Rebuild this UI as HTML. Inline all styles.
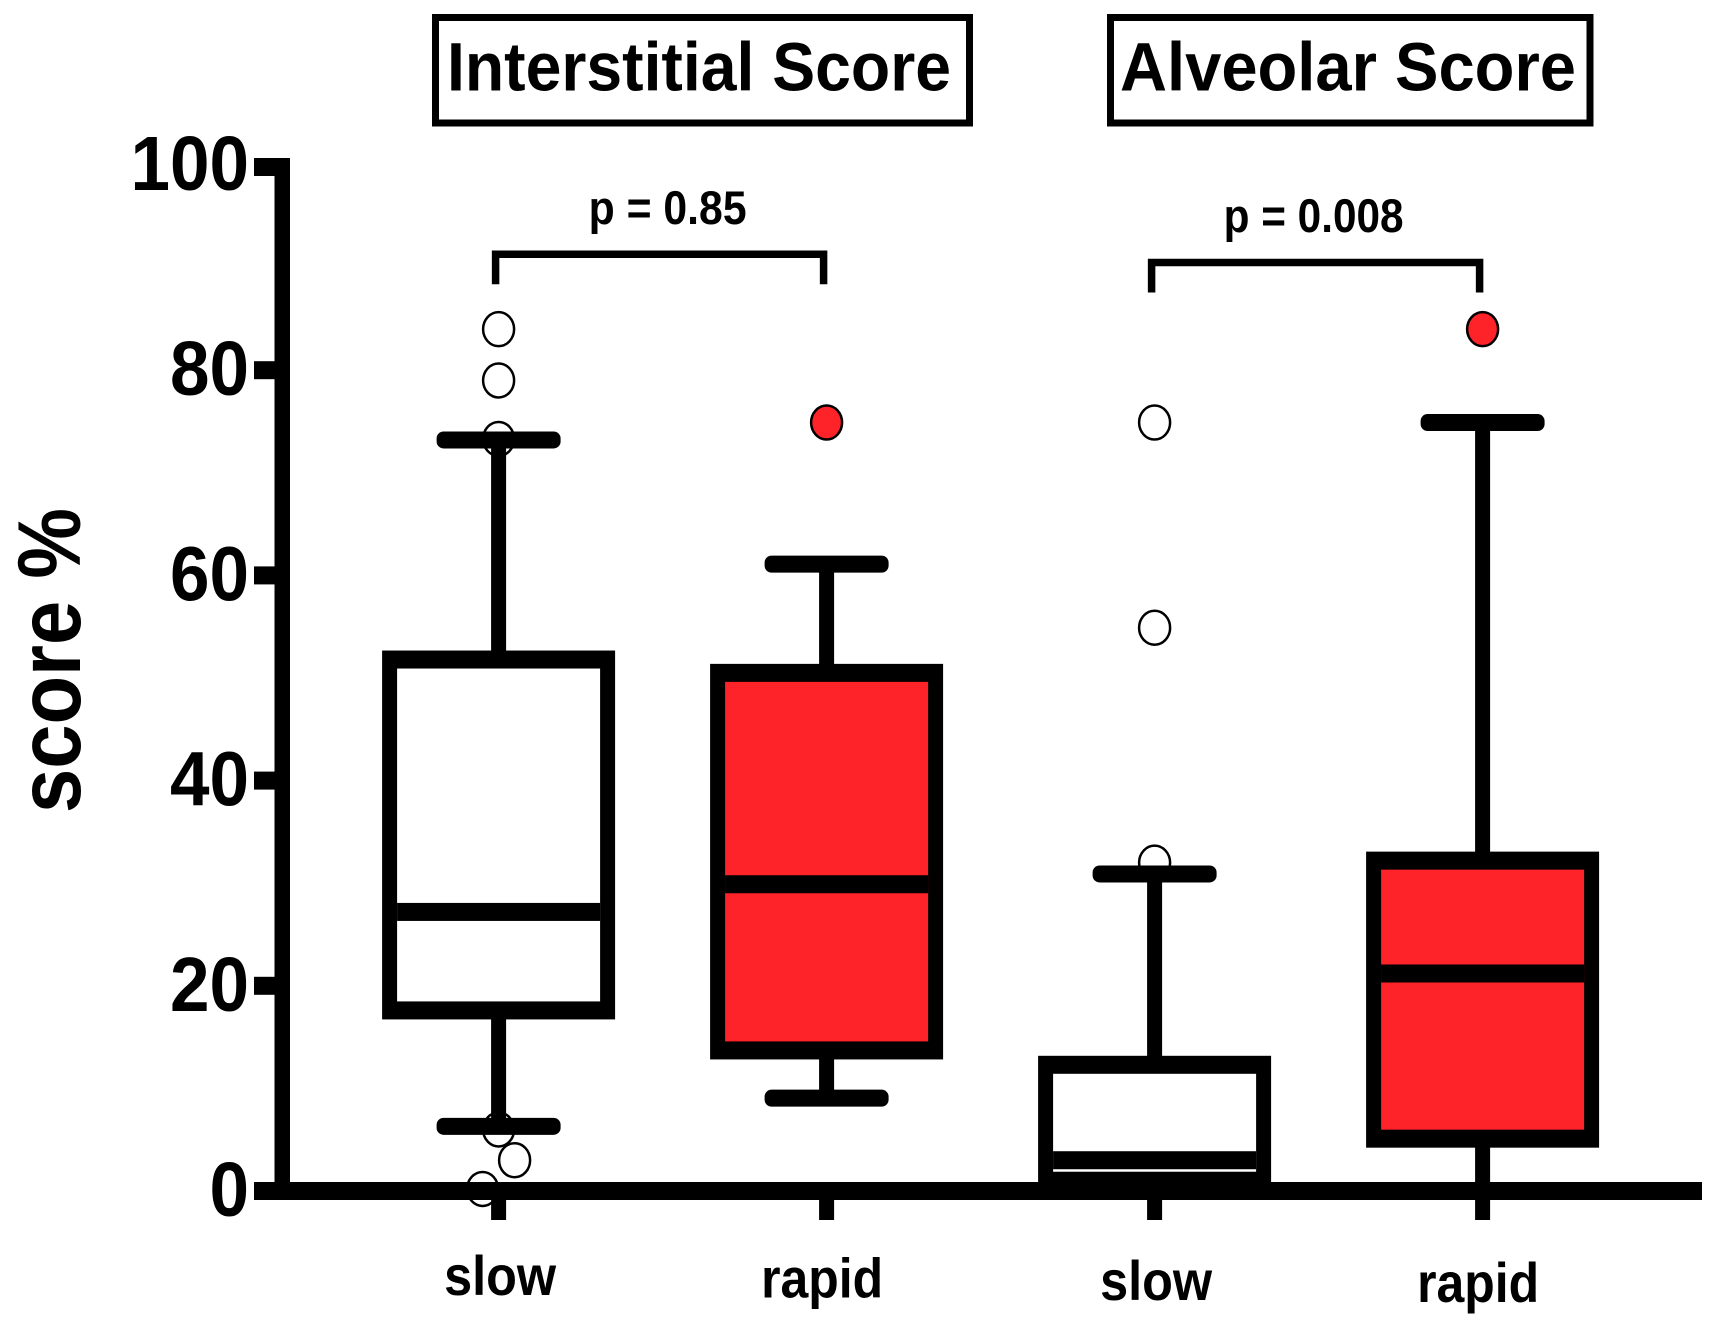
<!DOCTYPE html>
<html lang="en">
<head>
<meta charset="utf-8">
<title>Interstitial and Alveolar Score</title>
<style>
html,body{margin:0;padding:0;background:#fff;width:1722px;height:1332px;overflow:hidden}
svg{display:block}
text{font-family:"Liberation Sans",Arial,sans-serif;font-weight:700;fill:#000}
</style>
</head>
<body>
<svg id="chart" xmlns="http://www.w3.org/2000/svg" width="1722" height="1332" viewBox="0 0 1722 1332">
  <rect x="0" y="0" width="1722" height="1332" fill="#fff"/>
  <g>
    <rect x="435.5" y="17.5" width="534" height="105.5" fill="#fff" stroke="#000" stroke-width="7"/>
    <text x="447" y="90.5" font-size="69" textLength="504" lengthAdjust="spacingAndGlyphs">Interstitial Score</text>
  </g>
  <g>
    <rect x="1110.5" y="17.5" width="479.5" height="105.5" fill="#fff" stroke="#000" stroke-width="7"/>
    <text x="1120" y="90.5" font-size="69" textLength="456" lengthAdjust="spacingAndGlyphs">Alveolar Score</text>
  </g>
  <text transform="translate(80 813) rotate(-90)" font-size="89" textLength="305" lengthAdjust="spacingAndGlyphs">score %</text>
  <g id="marks"></g>
</svg>
<script>
var categories = ['slow', 'rapid', 'slow', 'rapid'];
var q1Values = [17.6, 13.7, 1.0, 5.1];
var medianValues = [27.2, 29.9, 3.0, 21.2];
var q3Values = [51.8, 50.5, 12.3, 32.2];
var whiskerLowValues = [6.3, 9.05, 0, 0];
var whiskerHighValues = [73.2, 61.1, 30.9, 74.9];
var outlierValues = [
  [84, 79, 73.3, 6, 3, 0.2],
  [74.9],
  [74.9, 54.9, 32],
  [84]
];
var boxFills = ['#ffffff', '#fe2229', '#ffffff', '#fe2229'];
var capFlags = [true, true, false, false];
var yTickValues = [0, 20, 40, 60, 80, 100];
var pLabels = ['p = 0.85', 'p = 0.008'];
var bracketPairs = [[0, 1], [2, 3]];
var bracketLevels = [91.3, 90.5];

var SVGNS = 'http://www.w3.org/2000/svg';
var root = document.getElementById('marks');

function yPos(v) { return 1191 - v * 10.26; }
function xPos(i) { return 498.6 + 328 * i; }

function make(tag, attrs) {
  var el = document.createElementNS(SVGNS, tag);
  for (var k in attrs) { el.setAttribute(k, attrs[k]); }
  root.appendChild(el);
  return el;
}

var el, i, j;

// outliers sit below the boxes, whiskers and axes
for (i = 0; i < categories.length; i++) {
  var side = 1;
  for (j = 0; j < outlierValues[i].length; j++) {
    var v = outlierValues[i][j];
    var prev = j > 0 ? outlierValues[i][j - 1] : null;
    var dodge = 0;
    if (prev !== null && Math.abs(prev - v) < 4) {
      dodge = 16 * side;
      side = -side;
    }
    el = make('ellipse', {
      cx: xPos(i) + dodge, cy: yPos(v), rx: 15.5, ry: 17,
      fill: boxFills[i], stroke: '#000', 'stroke-width': 2.5
    });
    
    
  }
}

// whiskers, caps and boxes
for (i = 0; i < categories.length; i++) {
  var cx = xPos(i);
  el = make('rect', {
    x: cx - 7.5, y: yPos(whiskerHighValues[i]),
    width: 15, height: yPos(whiskerLowValues[i]) - yPos(whiskerHighValues[i]), fill: '#000'
  });
  
  

  el = make('rect', {
    x: cx - 62, y: yPos(whiskerHighValues[i]) - 8.5,
    width: 124, height: 17, rx: 7, fill: '#000'
  });
  
  

  if (capFlags[i]) {
    el = make('rect', {
      x: cx - 62, y: yPos(whiskerLowValues[i]) - 8.5,
      width: 124, height: 17, rx: 7, fill: '#000'
    });
    
    
  }

  var boxTop = yPos(q3Values[i]);
  var boxBottom = yPos(q1Values[i]);
  el = make('rect', {
    x: cx - 116.5, y: boxTop - 9, width: 233, height: boxBottom - boxTop + 18, fill: '#000'
  });
  
  

  el = make('rect', {
    x: cx - 101.5, y: boxTop + 9, width: 203, height: boxBottom - boxTop - 18, fill: boxFills[i]
  });
  
  

  el = make('rect', {
    x: cx - 101.5, y: yPos(medianValues[i]) - 9, width: 203, height: 18, fill: '#000'
  });
  
  
}

// axes
el = make('rect', { x: 274.5, y: yPos(100) - 7, width: 15.5, height: yPos(0) - yPos(100) + 16, fill: '#000' });



el = make('rect', { x: 254, y: yPos(0) - 9, width: 1448, height: 18, fill: '#000' });



for (i = 0; i < yTickValues.length; i++) {
  el = make('rect', { x: 254, y: yPos(yTickValues[i]) - (yTickValues[i] === 100 ? 7 : 9), width: 21, height: 18, fill: '#000' });
  
  

  var label = String(yTickValues[i]);
  el = make('text', {
    x: 249, y: yPos(yTickValues[i]) + 25, 'font-size': 77, 'text-anchor': 'end',
    textLength: label.length * 39.5, lengthAdjust: 'spacingAndGlyphs'
  });
  el.textContent = label;
  
  
}

for (i = 0; i < categories.length; i++) {
  el = make('rect', { x: xPos(i) - 7.5, y: yPos(0), width: 15, height: 29, fill: '#000' });
  
  

  var isRapid = categories[i] === 'rapid';
  el = make('text', {
    x: xPos(i) + (isRapid ? -4.5 : 1.5), y: 1295 + 2.4 * i, 'font-size': 56, 'text-anchor': 'middle',
    textLength: isRapid ? 122 : 112, lengthAdjust: 'spacingAndGlyphs'
  });
  el.textContent = categories[i];
  
  
}

// significance brackets
for (i = 0; i < bracketPairs.length; i++) {
  var xa = xPos(bracketPairs[i][0]) - 3;
  var xb = xPos(bracketPairs[i][1]) - 3;
  var yb = yPos(bracketLevels[i]);
  el = make('path', {
    d: 'M' + xa + ' ' + (yb + 30) + 'V' + yb + 'H' + xb + 'V' + (yb + 30),
    fill: 'none', stroke: '#000', 'stroke-width': 7.5
  });
  
  

  el = make('text', {
    x: (xa + xb) / 2 + (i === 0 ? 8 : -2), y: yb - 30.5, 'font-size': 47, 'text-anchor': 'middle',
    textLength: i === 0 ? 158 : 180, lengthAdjust: 'spacingAndGlyphs'
  });
  el.textContent = pLabels[i];
  
  
}
</script>
</body>
</html>
